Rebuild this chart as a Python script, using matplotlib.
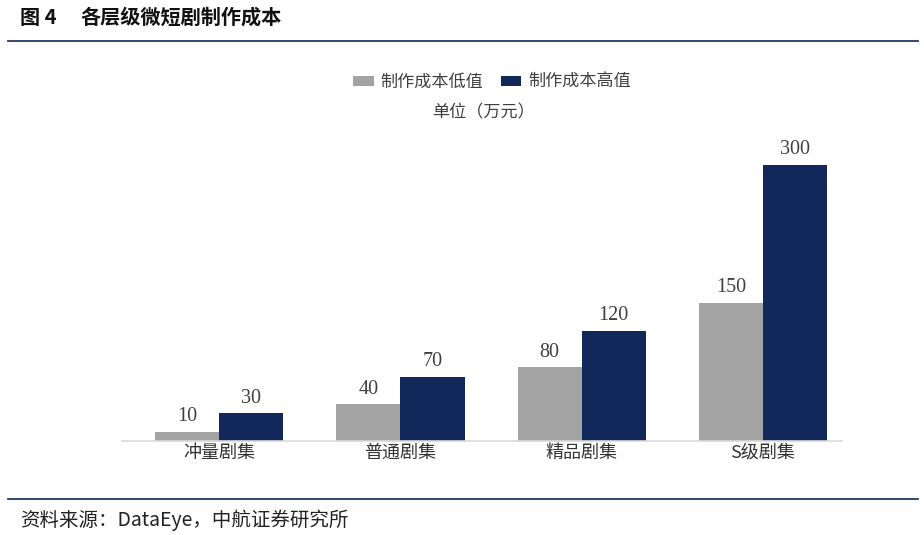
import matplotlib.pyplot as plt
import numpy as np

plt.rcParams['font.family'] = ['Noto Sans CJK SC', 'DejaVu Sans']

categories = ["冲量剧集", "普通剧集", "精品剧集", "S级剧集"]
low_vals = [10, 40, 80, 150]
high_vals = [30, 70, 120, 300]
series_names = ["制作成本低值", "制作成本高值"]

gray = "#a3a3a3"
navy = "#12285a"
rule_color = "#1f3864"

fig = plt.figure(figsize=(9.24, 5.35), dpi=100)

# title and rules
fig.text(20 / 924, 1 - 17 / 535, "图 4", fontsize=14.5, fontweight="bold",
         ha="left", va="center", color="#111111")
fig.text(80 / 924, 1 - 17 / 535, "各层级微短剧制作成本", fontsize=14.5, fontweight="bold",
         ha="left", va="center", color="#111111")
fig.add_artist(plt.Line2D([8 / 924, 918 / 924], [1 - 41 / 535] * 2, color=rule_color, lw=1.3))
fig.add_artist(plt.Line2D([8 / 924, 918 / 924], [1 - 499 / 535] * 2, color=rule_color, lw=1.3))
fig.text(20 / 924, 1 - 520 / 535, "资料来源：DataEye，中航证券研究所", fontsize=14,
         ha="left", va="center", color="#222222")

ax = fig.add_axes([122 / 924, 1 - 441 / 535, 720 / 924, 311 / 535])
x = np.arange(len(categories))
w = 0.354
b1 = ax.bar(x - w / 2, low_vals, w, color=gray, label=series_names[0])
b2 = ax.bar(x + w / 2, high_vals, w, color=navy, label=series_names[1])

for bars, vals in ((b1, low_vals), (b2, high_vals)):
    for r, v in zip(bars, vals):
        ax.annotate(str(v), (r.get_x() + r.get_width() / 2, r.get_height()),
                    xytext=(0, 4), textcoords="offset points", ha="center", va="bottom",
                    fontsize=14.5, color="#404040", family=["Liberation Serif", "DejaVu Serif"])

ax.set_xlim(-0.536, 3.436)
ax.set_ylim(0, 338)
ax.set_xticks(x)
ax.set_xticklabels(categories, fontsize=13, color="#333333")
ax.tick_params(axis="x", length=0, pad=2)
ax.set_yticks([])
for s in ["top", "right", "left"]:
    ax.spines[s].set_visible(False)
ax.spines["bottom"].set_color("#d9d9d9")
ax.spines["bottom"].set_linewidth(1.2)

fig.legend(handles=[b1, b2], loc="center", bbox_to_anchor=(492 / 924, 1 - 82 / 535), ncol=2,
           frameon=False, fontsize=12.3, handlelength=1.2, handleheight=0.5, columnspacing=1.0,
           handletextpad=0.4, labelcolor="#404040")
fig.text(483 / 924, 1 - 112 / 535, "单位（万元）", fontsize=12.3, ha="center", va="center",
         color="#404040")

fig.savefig("out.png", dpi=100)
